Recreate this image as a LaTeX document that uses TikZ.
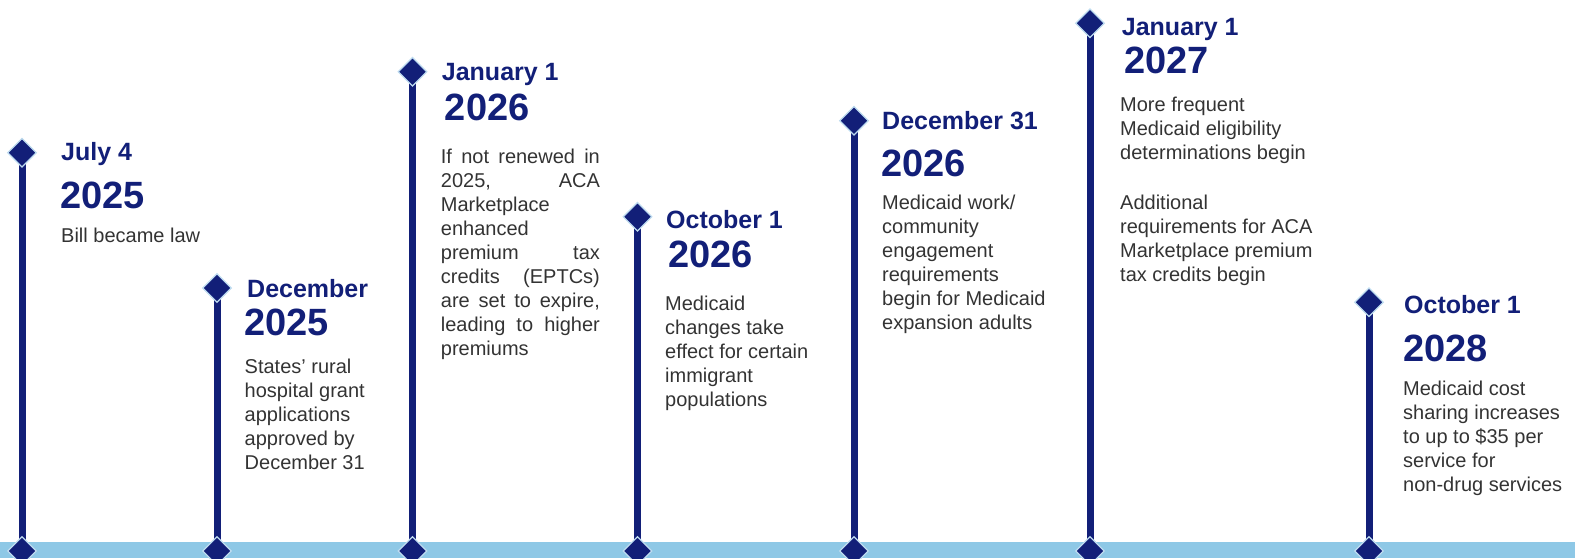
\documentclass[tikz,border=0pt]{standalone}
\usepackage{fontspec}
\setmainfont{Liberation Sans}
\usetikzlibrary{shapes.geometric,backgrounds}
\definecolor{navy}{RGB}{18,31,120}
\definecolor{barblue}{RGB}{142,200,230}
\definecolor{edgeblue}{RGB}{190,220,240}
\definecolor{bodygray}{RGB}{51,51,51}
\tikzset{
 marker/.style={diamond, aspect=1, fill=navy, draw=edgeblue, line width=1.2pt, minimum width=29pt, minimum height=29pt, inner sep=0pt},
 stem/.style={navy, line width=7pt},
 datehead/.style={anchor=base west, inner sep=0pt, text=navy, font=\fontsize{25}{30}\selectfont\bfseries},
 yearhead/.style={anchor=base west, inner sep=0pt, text=navy, font=\fontsize{38}{40}\selectfont\bfseries},
 bodytext/.style={anchor=base west, inner sep=0pt, text=bodygray, font=\fontsize{20}{24}\selectfont},
}
\newcommand{\jline}[1]{\makebox[159pt][s]{#1}}
\begin{document}
\begin{tikzpicture}[x=1pt,y=-1pt]
\useasboundingbox (0,0) rectangle (1575,558);
% markers
\node[marker] (t1) at (22,152.7) {};
\node[marker] (b1) at (22,551) {};
\node[marker] (t2) at (217,288) {};
\node[marker] (b2) at (217,551) {};
\node[marker] (t3) at (412.5,71.7) {};
\node[marker] (b3) at (412.5,551) {};
\node[marker] (t4) at (637.5,216.7) {};
\node[marker] (b4) at (637.5,551) {};
\node[marker] (t5) at (854,120.7) {};
\node[marker] (b5) at (854,551) {};
\node[marker] (t6) at (1090,23.3) {};
\node[marker] (b6) at (1090,551) {};
\node[marker] (t7) at (1369,302.3) {};
\node[marker] (b7) at (1369,551) {};
\begin{scope}[on background layer]
\fill[barblue] (0,542) rectangle (1575,558);
\foreach \i in {1,...,7} {\draw[stem] (b\i.center) -- (t\i.center);}
\end{scope}
% event 1
\node[datehead] (h1) at (61,160.5) {July 4};
\node[yearhead] (y1) at (60,208) {2025};
\node[bodytext] (d1) at (61,242.3) {Bill became law};
% event 2
\node[datehead] (h2) at (247,297.7) {December};
\node[yearhead] (y2) at (244,335.7) {2025};
\node[bodytext] (d2) at (244.5,373.3) {\parbox[t]{200pt}{\raggedright States’ rural\\hospital grant\\applications\\approved by\\December 31}};
% event 3
\node[datehead] (h3) at (441.7,80.7) {January 1};
\node[yearhead] (y3) at (444.7,120.7) {2026};
\node[bodytext] (d3) at (440.7,163.3) {\parbox[t]{159pt}{\raggedright \jline{If not renewed in}\\\jline{2025, ACA}\\Marketplace\\enhanced\\\jline{premium tax}\\\jline{credits (EPTCs)}\\\jline{are set to expire,}\\\jline{leading to higher}\\premiums}};
% event 4
\node[datehead] (h4) at (666,228) {October 1};
\node[yearhead] (y4) at (668,267) {2026};
\node[bodytext] (d4) at (665,310) {\parbox[t]{200pt}{\raggedright Medicaid\\changes take\\effect for certain\\immigrant\\populations}};
% event 5
\node[datehead] (h5) at (882,129.3) {December 31};
\node[yearhead] (y5) at (881,176.7) {2026};
\node[bodytext] (d5) at (882,209.3) {\parbox[t]{200pt}{\raggedright Medicaid work/\\community\\engagement\\requirements\\begin for Medicaid\\expansion adults}};
% event 6
\node[datehead] (h6) at (1121.7,35) {January 1};
\node[yearhead] (y6) at (1124,73.3) {2027};
\node[bodytext] (d6) at (1120,111.5) {\parbox[t]{220pt}{\raggedright More frequent\\Medicaid eligibility\\determinations begin\\[26pt]Additional\\requirements for ACA\\Marketplace premium\\tax credits begin}};
% event 7
\node[datehead] (h7) at (1404,313.3) {October 1};
\node[yearhead] (y7) at (1403,361.7) {2028};
\node[bodytext] (d7) at (1403,395) {\parbox[t]{170pt}{\raggedright Medicaid cost\\sharing increases\\to up to \$35 per\\service for\\non-drug services}};
\end{tikzpicture}
\end{document}
